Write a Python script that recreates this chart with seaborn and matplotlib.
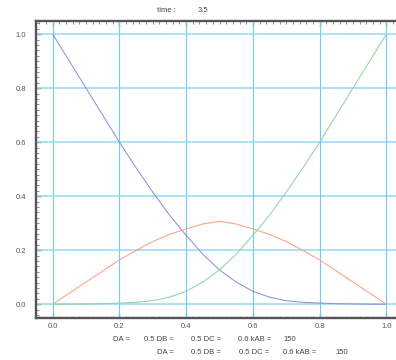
import matplotlib
matplotlib.use("Agg")
import matplotlib.pyplot as plt
from matplotlib.ticker import MultipleLocator
import seaborn as sns
import pandas as pd

x = [0.0, 0.05, 0.1, 0.15, 0.2, 0.25, 0.3, 0.35, 0.4, 0.45, 0.5,
     0.55, 0.6, 0.65, 0.7, 0.75, 0.8, 0.85, 0.9, 0.95, 1.0]
conc_a = [1.0, 0.9, 0.8, 0.7, 0.6, 0.505, 0.415, 0.33, 0.255, 0.185, 0.127,
          0.082, 0.048, 0.026, 0.013, 0.007, 0.004, 0.002, 0.001, 0.0, 0.0]
conc_b = [0.0, 0.041, 0.082, 0.123, 0.164, 0.199, 0.232, 0.258, 0.279, 0.297, 0.307,
          0.297, 0.279, 0.258, 0.232, 0.199, 0.164, 0.123, 0.082, 0.041, 0.0]
conc_c = [0.0, 0.0, 0.001, 0.002, 0.004, 0.007, 0.013, 0.026, 0.048, 0.082, 0.127,
          0.185, 0.255, 0.33, 0.415, 0.505, 0.6, 0.7, 0.8, 0.9, 1.0]
ticks = [0.0, 0.2, 0.4, 0.6, 0.8, 1.0]
tick_labels = ["0.0", "0.2", "0.4", "0.6", "0.8", "1.0"]
title_label = "time :"
title_value = "3.5"
row1 = [("DA =", 113), ("0.5 DB =", 144), ("0.5 DC =", 191), ("0.6 kAB =", 238), ("150", 283)]
row2 = [("DA =", 157), ("0.5 DB =", 191), ("0.5 DC =", 239), ("0.6 kAB =", 283), ("150", 335)]

sns.set_style("white")
plt.rcParams['font.family'] = ['Liberation Sans', 'DejaVu Sans']

W, H = 396, 360
fig = plt.figure(figsize=(W / 100, H / 100), dpi=100)
left, right, top, bottom = 36, 403, 20.7, 317.7
ax = fig.add_axes([left / W, 1 - bottom / H, (right - left) / W, (bottom - top) / H])

df = pd.DataFrame({"x": x, "A": conc_a, "B": conc_b, "C": conc_c})
for t in ticks:
    ax.axvline(t, color="#6ccdf0", lw=0.8, zorder=1)
    ax.axhline(t, color="#92daf4", lw=1.1, zorder=1)

sns.lineplot(data=df, x="x", y="A", ax=ax, color="#9090dc", lw=0.75, zorder=3)
sns.lineplot(data=df, x="x", y="B", ax=ax, color="#ffa080", lw=0.75, zorder=3)
sns.lineplot(data=df, x="x", y="C", ax=ax, color="#90d4a4", lw=0.75, zorder=3)

ax.set_xlim(-0.05, 1.05)
ax.set_ylim(-0.05, 1.05)
ax.set_xlabel("")
ax.set_ylabel("")
ax.set_xticks(ticks)
ax.set_xticklabels(tick_labels)
ax.set_yticks(ticks)
ax.set_yticklabels(tick_labels)
ax.xaxis.set_minor_locator(MultipleLocator(0.02))
ax.yaxis.set_minor_locator(MultipleLocator(0.02))
ax.tick_params(which="both", direction="in", top=True, bottom=True, left=True, right=False,
               color="#555555", labelsize=5.5, labelcolor="#555555")
ax.tick_params(which="major", length=3.5, width=0.9)
ax.tick_params(which="minor", length=1.8, width=0.45)
ax.tick_params(axis="x", pad=4)
ax.tick_params(axis="y", pad=7)

for s in ["left", "top", "bottom"]:
    ax.spines[s].set_color("#555555")
    ax.spines[s].set_linewidth(1.7)
ax.spines["right"].set_visible(False)

fs = 5.5
tc = "#444444"
fig.text(157 / W, 1 - 10.7 / H, title_label, fontsize=fs, color=tc, va="center", ha="left")
fig.text(198 / W, 1 - 10.7 / H, title_value, fontsize=fs, color=tc, va="center", ha="left")
for txt, px in row1:
    fig.text(px / W, 1 - 339.7 / H, txt, fontsize=fs, color=tc, va="center", ha="left")
for txt, px in row2:
    fig.text(px / W, 1 - 352.7 / H, txt, fontsize=fs, color=tc, va="center", ha="left")

fig.savefig("out.png", dpi=100)
